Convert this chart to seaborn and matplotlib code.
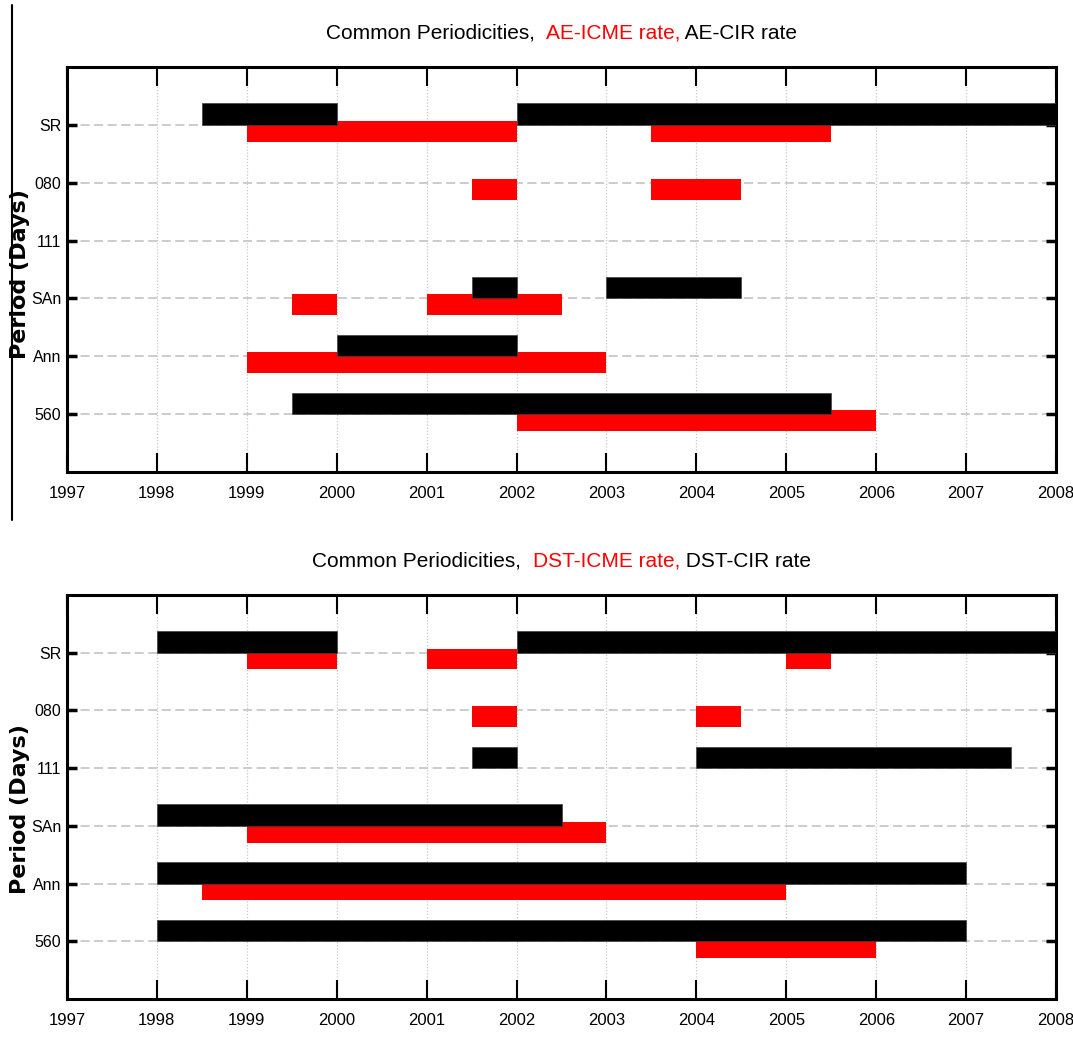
import matplotlib
matplotlib.use("Agg")
import matplotlib.pyplot as plt
from matplotlib.lines import Line2D
from matplotlib.offsetbox import TextArea, HPacker, AnchoredOffsetbox
import seaborn as sns

# Period bands on the y axis (bottom to top)
periods = ["560", "Ann", "SAn", "111", "080", "SR"]
years = list(range(1997, 2009))

# AE index: intervals (start, end) where a common periodicity is found
ae_icme_period = ["SR", "SR", "080", "080", "SAn", "SAn", "Ann", "560"]
ae_icme_start = [1999.0, 2003.5, 2001.5, 2003.5, 1999.5, 2001.0, 1999.0, 2002.0]
ae_icme_end = [2002.0, 2005.5, 2002.0, 2004.5, 2000.0, 2002.5, 2003.0, 2006.0]

ae_cir_period = ["SR", "SR", "SAn", "SAn", "Ann", "560"]
ae_cir_start = [1998.5, 2002.0, 2001.5, 2003.0, 2000.0, 1999.5]
ae_cir_end = [2000.0, 2008.0, 2002.0, 2004.5, 2002.0, 2005.5]

# DST index
dst_icme_period = ["SR", "SR", "SR", "080", "080", "SAn", "Ann", "560"]
dst_icme_start = [1999.0, 2001.0, 2005.0, 2001.5, 2004.0, 1999.0, 1998.5, 2004.0]
dst_icme_end = [2000.0, 2002.0, 2005.5, 2002.0, 2004.5, 2003.0, 2005.0, 2006.0]

dst_cir_period = ["SR", "SR", "111", "111", "SAn", "Ann", "560"]
dst_cir_start = [1998.0, 2002.0, 2001.5, 2004.0, 1998.0, 1998.0, 1998.0]
dst_cir_end = [2000.0, 2008.0, 2002.0, 2007.5, 2002.5, 2007.0, 2007.0]

sns.set_style("white")
narrow = ["Liberation Sans Narrow", "Liberation Sans", "DejaVu Sans"]
plt.rcParams["font.family"] = narrow

fig = plt.figure(figsize=(10.73, 10.37), dpi=100)

ypos = {p: i + 1 for i, p in enumerate(periods)}


def draw_panel(ax, icme, cir, index_name, ylabel_frac):
    ax.set_xlim(1997, 2008)
    ax.set_ylim(0, 7)
    ax.set_axisbelow(True)
    # ICME intervals: red bars hanging just below each period line
    for p, s, e in zip(*icme):
        ax.barh(ypos[p] + 0.07, e - s, left=s, height=-0.36, align="edge",
                color="#ff0000", edgecolor="none", zorder=2)
    # CIR intervals: black bars resting on each period line
    for p, s, e in zip(*cir):
        ax.barh(ypos[p], e - s, left=s, height=0.37, align="edge",
                color="black", edgecolor="#404040", linewidth=0.5, zorder=3)
    ax.set_xticks(years)
    ax.set_xticklabels([str(y) for y in years])
    ax.set_yticks([ypos[p] for p in periods])
    ax.set_yticklabels(periods)
    ax.xaxis.grid(True, color="#c8c8c8", linestyle=(0, (1, 1.5)), linewidth=0.9)
    ax.yaxis.grid(True, color="#c8c8c8", linestyle=(0, (5, 2.5)), linewidth=1.3)
    for sp in ax.spines.values():
        sp.set_visible(True)
        sp.set_color("black")
        sp.set_linewidth(2.2)
    ax.tick_params(axis="x", which="major", direction="in", length=14, width=1.5,
                   top=True, bottom=True, labelsize=12, pad=10, colors="black")
    ax.tick_params(axis="y", which="major", direction="in", length=7, width=2.5,
                   left=True, right=True, labelsize=11.5, pad=4, colors="black")
    ax.set_ylabel("Period (Days)", family="DejaVu Sans", fontweight="bold",
                  fontsize=16, color="black")
    ax.yaxis.set_label_coords(-0.037, ylabel_frac)

    pieces = [TextArea("Common Periodicities,  ",
                       textprops=dict(color="black", fontsize=15, family=narrow)),
              TextArea(f"{index_name}-ICME rate,",
                       textprops=dict(color="#ff0000", fontsize=15, family=narrow)),
              TextArea(f" {index_name}-CIR rate",
                       textprops=dict(color="black", fontsize=15, family=narrow))]
    box = HPacker(children=pieces, align="baseline", pad=0, sep=0)
    anchored = AnchoredOffsetbox(loc="lower center", child=box, pad=0, frameon=False,
                                 bbox_to_anchor=(0.5, 1.06),
                                 bbox_transform=ax.transAxes, borderpad=0)
    ax.add_artist(anchored)


ax1 = fig.add_axes([0.0624, 0.5448, 0.9218, 0.3906])
ax2 = fig.add_axes([0.0624, 0.0367, 0.9218, 0.3896])

draw_panel(ax1, (ae_icme_period, ae_icme_start, ae_icme_end),
           (ae_cir_period, ae_cir_start, ae_cir_end), "AE", 0.49)
draw_panel(ax2, (dst_icme_period, dst_icme_start, dst_icme_end),
           (dst_cir_period, dst_cir_start, dst_cir_end), "DST", 0.47)

# thin frame line along the left edge of the upper panel
fig.add_artist(Line2D([12 / 1073, 12 / 1073], [1 - 5 / 1037, 1 - 520 / 1037],
                      transform=fig.transFigure, color="black", linewidth=1.5))

fig.savefig("out.png", dpi=100)
